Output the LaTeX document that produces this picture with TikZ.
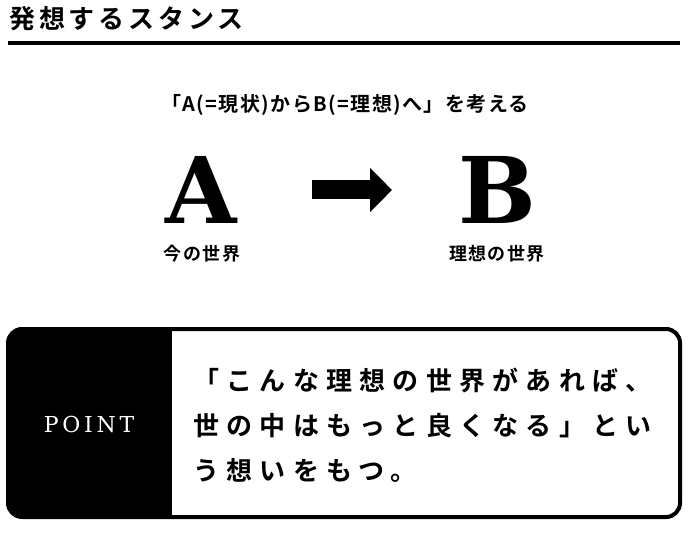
\documentclass[tikz,border=0pt]{standalone}
\usepackage{fontspec}
\usetikzlibrary{arrows.meta,calc}
\newfontfamily\jpfont{Noto Sans CJK JP}[BoldFont={Noto Sans CJK JP Bold}]
\newfontfamily\slabfont{DejaVu Serif}[BoldFont={DejaVu Serif Bold}]

\tikzset{
  every node/.style={inner sep=0pt},
  title/.style={anchor=west, font=\jpfont\bfseries\fontsize{26}{30}\selectfont\addfontfeatures{LetterSpace=15}},
  caption/.style={font=\jpfont\bfseries\fontsize{20}{22}\selectfont\addfontfeatures{LetterSpace=7}},
  worldlabel/.style={font=\jpfont\bfseries\fontsize{18}{22}\selectfont\addfontfeatures{LetterSpace=8}},
  bigletter/.style={font=\slabfont\bfseries\fontsize{92}{92}\selectfont, text height=66pt, text depth=0pt},
  bigarrow/.style={line width=19pt, -{Triangle[length=22pt,width=43pt]}},
  pointlabel/.style={text=white, font=\slabfont\fontsize{22}{24}\selectfont\addfontfeatures{LetterSpace=17}},
  pointtext/.style={anchor=west, align=left, font=\jpfont\bfseries\fontsize{26}{45}\selectfont\addfontfeatures{LetterSpace=28}}
}

\begin{document}
\begin{tikzpicture}[x=1pt,y=-1pt]
  \useasboundingbox (0,0) rectangle (688,540);

  % heading
  \node (title) [title] at (9,19) {発想するスタンス};
  \draw [line width=4.5pt] (8,43) -- (680,43);

  \node (caption) [caption] at (345,105) {「A(=現状)からB(=理想)へ」を考える};

  \node (A) [bigletter] at (201,190) {A};
  \node (B) [bigletter] at (497,190) {B};
  \node (now) [worldlabel] at (202,254) {今の世界};
  \node (ideal) [worldlabel] at (497,254) {理想の世界};

  \draw [bigarrow] ([xshift=111pt]A.center) -- ([xshift=-105pt]B.center);

  % point box
  \begin{scope}
    \clip [rounded corners=14pt] (8,329) rectangle (680,517);
    \fill (8,329) rectangle (172,517);
  \end{scope}
  \draw [line width=4pt, rounded corners=14pt] (8,329) rectangle (680,517);

  \node (point) [pointlabel] at (89,424) {POINT};
  \node (message) [pointtext] at (193,425) {「こんな理想の世界があれば、\\世の中はもっと良くなる」とい\\う想いをもつ。};
\end{tikzpicture}
\end{document}
